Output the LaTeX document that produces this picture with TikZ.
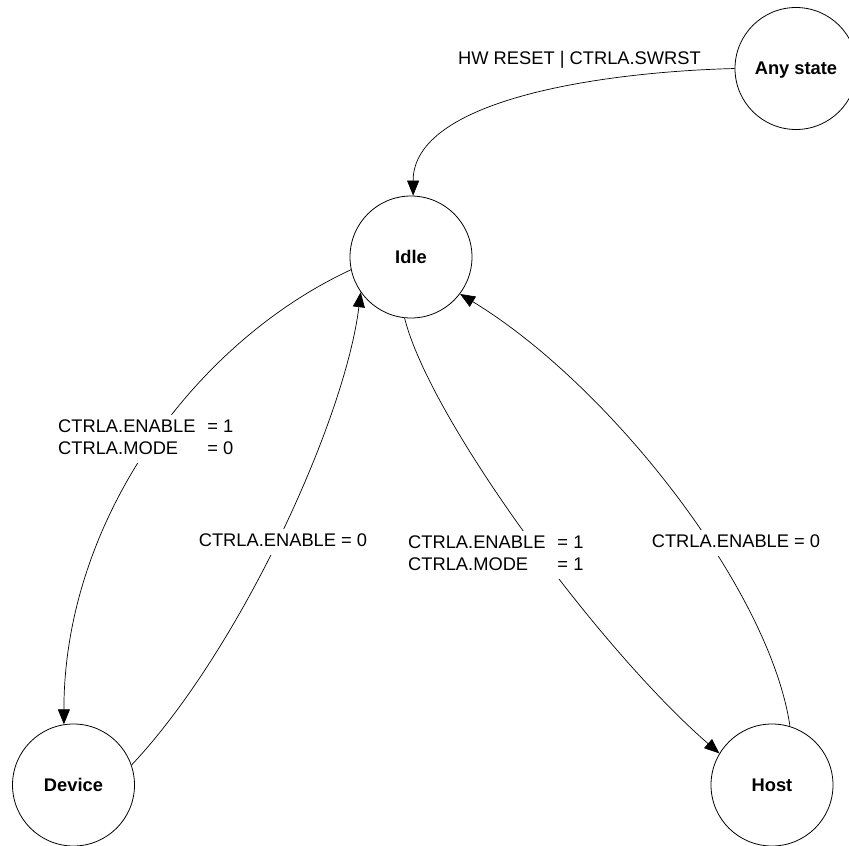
\documentclass[tikz,border=0pt]{standalone}
\usepackage{fontspec}
\setmainfont{Liberation Sans}
\usetikzlibrary{arrows.meta}
\begin{document}
\begin{tikzpicture}[x=1pt,y=-1pt,
	state/.style={draw,circle,line width=0.8pt,minimum size=122pt,inner sep=0pt,text depth=0pt,font=\fontsize{18.3}{22}\selectfont\bfseries},
	trans/.style={line width=0.7pt,-{Triangle[length=15pt,width=12pt]}},
	lbl/.style={fill=white,inner sep=2pt,font=\fontsize{18.3}{22}\selectfont}]

	\clip (0,0) rectangle (849,846);

	% states
	\node[state] (any) at (796,68.5) {Any state};
	\node[state] (idle) at (411,257) {Idle};
	\node[state] (device) at (73.5,785) {Device};
	\node[state] (host) at (772,785) {Host};

	% transitions
	\draw[trans] (any.180) .. controls (600,72) and (413,100) .. (idle.88);
	\draw[trans] (idle.192) .. controls (195,342) and (64,520) .. (device.99);
	\draw[trans] (device.19) .. controls (240,650) and (345,420) .. (idle.215);
	\draw[trans] (idle.264) .. controls (430,420) and (600,650) .. (host.149);
	\draw[trans] (host.73) .. controls (770,590) and (610,385) .. (idle.323);

	% conditions
	\node[lbl,fill=none,anchor=base] (reset) at (579.5,64.5) {HW RESET | CTRLA.SWRST};
	\node[lbl,anchor=base west] (devon) at (56,432.5) {\begin{tabular}[t]{@{}l@{\hspace{12pt}}l@{}}CTRLA.ENABLE & = 1\\ CTRLA.MODE & = 0\end{tabular}};
	\node[lbl,anchor=base] (devoff) at (283,546) {\strut CTRLA.ENABLE = 0};
	\node[lbl,anchor=base west] (hoston) at (406,548.5) {\begin{tabular}[t]{@{}l@{\hspace{12pt}}l@{}}CTRLA.ENABLE & = 1\\ CTRLA.MODE & = 1\end{tabular}};
	\node[lbl,anchor=base] (hostoff) at (736,547) {\strut CTRLA.ENABLE = 0};

\end{tikzpicture}
\end{document}
